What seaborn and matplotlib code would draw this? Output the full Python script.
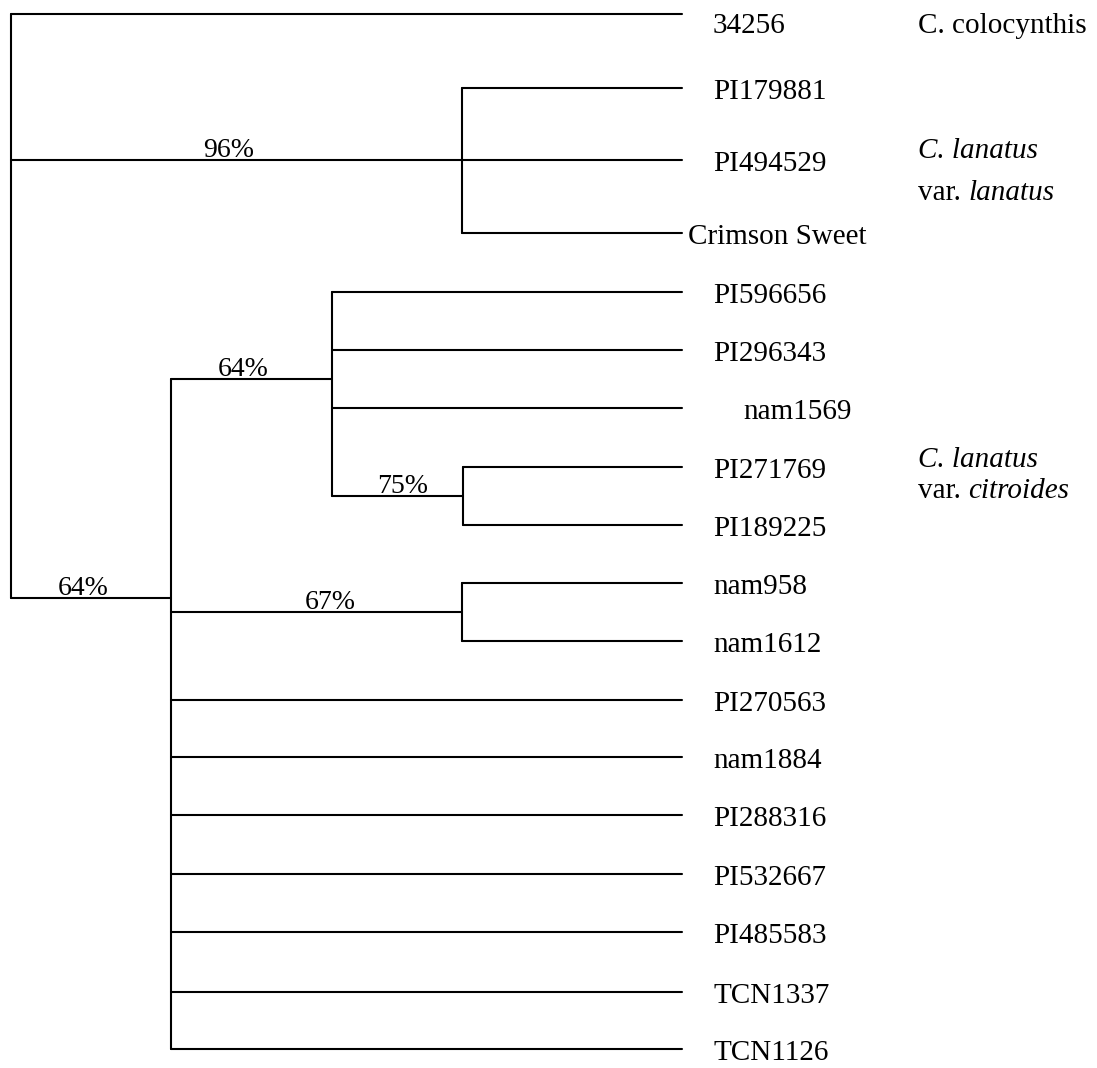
import matplotlib
matplotlib.use("Agg")
import matplotlib.pyplot as plt
import seaborn as sns
import pandas as pd

# Leaves (top to bottom) and their row positions
leaves = ["34256", "PI179881", "PI494529", "Crimson Sweet",
          "PI596656", "PI296343", "nam1569", "PI271769", "PI189225",
          "nam958", "nam1612", "PI270563", "nam1884", "PI288316",
          "PI532667", "PI485583", "TCN1337", "TCN1126"]
leaf_y = [14, 88, 160, 233, 292, 350, 408, 467, 525, 583, 641,
          700, 757, 815, 874, 932, 992, 1049]
tip_x = 682

# Internal nodes: depth, row, children, bootstrap support
node_names = ["root", "n96", "n64a", "n64b", "n75", "n67"]
node_x = [11, 462, 171, 332, 463, 462]
node_y = [None, 160, 598, 379, 496, 612]
node_children = [
    ["34256", "n96", "n64a"],
    ["PI179881", "PI494529", "Crimson Sweet"],
    ["n64b", "n67", "PI270563", "nam1884", "PI288316", "PI532667",
     "PI485583", "TCN1337", "TCN1126"],
    ["PI596656", "PI296343", "nam1569", "n75"],
    ["PI271769", "PI189225"],
    ["nam958", "nam1612"],
]
node_support = [None, "96%", "64%", "64%", "75%", "67%"]

# Group labels on the right
groups = [
    [("C. colocynthis", "normal")],
    [("C. lanatus", "italic"), ("var. lanatus", "mixed")],
    [("C. lanatus", "italic"), ("var. citroides", "mixed")],
]

pos_y = dict(zip(leaves, leaf_y))
pos_x = {name: tip_x for name in leaves}
for n, x, y in zip(node_names, node_x, node_y):
    pos_x[n] = x
    pos_y[n] = y

# build segments: vertical bar per node + horizontal stem to each child
rows = []
seg = 0
for n, kids in zip(node_names, node_children):
    ys = [pos_y[k] for k in kids]
    rows += [(seg, pos_x[n], min(ys)), (seg, pos_x[n], max(ys))]
    seg += 1
    for k in kids:
        rows += [(seg, pos_x[n], pos_y[k]), (seg, pos_x[k], pos_y[k])]
        seg += 1
segs = pd.DataFrame(rows, columns=["seg", "x", "y"])

sns.set_style("white")
plt.rcParams["font.family"] = ["Liberation Serif", "DejaVu Serif"]
plt.rcParams["text.color"] = "black"

fig = plt.figure(figsize=(10.97, 10.68), dpi=100)
ax = fig.add_axes([0, 0, 1, 1])
sns.lineplot(data=segs, x="x", y="y", units="seg", estimator=None, sort=False,
             color="black", linewidth=1.5, legend=False, ax=ax)
ax.set_xlim(0, 1097)
ax.set_ylim(1068, 0)
ax.axis("off")

fs = 21
label_x = {"Crimson Sweet": 688, "nam1569": 743}
label_dy = {"34256": 19}
for name, y in zip(leaves, leaf_y):
    ax.text(label_x.get(name, 713), y + label_dy.get(name, 11), name,
            fontsize=fs, ha="left", va="baseline")

support_x = {"n96": 229, "n64a": 83, "n64b": 243, "n75": 403, "n67": 330}
for n, s in zip(node_names, node_support):
    if s:
        ax.text(support_x[n], pos_y[n] - 3, s, fontsize=20,
                ha="center", va="baseline")

group_base = [[33], [158, 200], [467, 498]]
fig.canvas.draw()
inv = ax.transData.inverted()
for lines, bases in zip(groups, group_base):
    for (txt, style), b in zip(lines, bases):
        if style == "mixed":
            pre, rest = txt.split(" ", 1)
            t = ax.text(918, b, pre + " ", fontsize=fs, ha="left", va="baseline")
            bb = t.get_window_extent(renderer=fig.canvas.get_renderer())
            x1 = inv.transform((bb.x1, bb.y0))[0]
            ax.text(x1, b, rest, fontsize=fs, style="italic",
                    ha="left", va="baseline")
        else:
            ax.text(918, b, txt, fontsize=fs, style=style,
                    ha="left", va="baseline")

fig.savefig("out.png", dpi=100)
